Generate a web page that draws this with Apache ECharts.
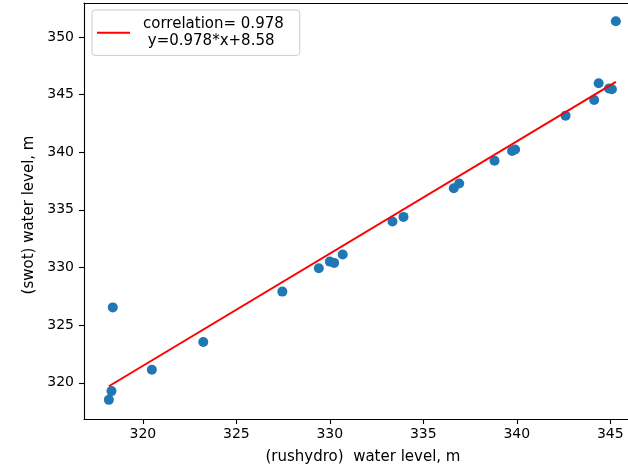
<!DOCTYPE html>
<html>
<head>
<meta charset="utf-8">
<script src="https://cdn.jsdelivr.net/npm/echarts@6/dist/echarts.min.js"></script>
<style>
html,body{margin:0;padding:0;background:#fff;}
#chart{width:628px;height:471px;}
</style>
</head>
<body>
<div id="chart"></div>
<script>
var rushydro = [318.39, 318.32, 318.18, 320.48, 323.23, 327.46, 329.41, 330.00, 330.23, 330.69,
                333.35, 333.94, 336.63, 336.92, 338.81, 339.75, 339.91, 342.61, 344.14, 344.38,
                344.93, 345.09, 345.30];
var swot     = [326.54, 319.28, 318.52, 321.13, 323.54, 327.91, 329.93, 330.51, 330.40, 331.12,
                333.99, 334.39, 336.88, 337.29, 339.26, 340.10, 340.24, 343.17, 344.53, 345.98,
                345.52, 345.46, 351.36];
// Regression line endpoints
var fitX = [318.18, 345.30];
var fitY = [319.70, 346.10];
var fitName = 'correlation= 0.978\n y=0.978*x+8.58';
// Tick labels
var xTicks = [320, 325, 330, 335, 340, 345];
var yTicks = [320, 325, 330, 335, 340, 345, 350];

var font = 'DejaVu Sans';
var scatterData = rushydro.map(function (x, i) { return [x, swot[i]]; });
var fitData = fitX.map(function (x, i) { return [x, fitY[i]]; });

var chart = echarts.init(document.getElementById('chart'), null, {renderer: 'canvas'});
chart.setOption({
  animation: false,
  backgroundColor: '#ffffff',
  textStyle: {fontFamily: font},
  grid: {left: 84, right: 0, top: 3, bottom: 52, containLabel: false},
  legend: {
    left: 92, top: 10,
    orient: 'vertical',
    data: [fitName],
    icon: 'rect',
    itemWidth: 33, itemHeight: 2,
    padding: [5, 16, 5, 5],
    backgroundColor: 'rgba(255,255,255,0.8)',
    borderColor: '#cccccc', borderWidth: 1, borderRadius: 3,
    textStyle: {fontFamily: font, fontSize: 15, color: '#000', lineHeight: 17.7, padding: [0, 0, 0, 8]}
  },
  xAxis: [{
    type: 'value', min: 316.85, max: 345.95,
    name: '(rushydro)  water level, m', nameLocation: 'middle', nameGap: 31,
    nameTextStyle: {fontFamily: font, fontSize: 15, color: '#000', padding: [0, 0, 0, 14]},
    axisLine: {show: true, onZero: false, lineStyle: {color: '#000', width: 1.1}},
    axisTick: {show: true, length: 5, lineStyle: {color: '#000', width: 1.1}, customValues: xTicks},
    axisLabel: {fontFamily: font, fontSize: 14, color: '#000', margin: 8, customValues: xTicks},
    splitLine: {show: false}
  }, {
    type: 'value', position: 'top', min: 316.85, max: 345.95,
    axisLine: {show: true, onZero: false, lineStyle: {color: '#000', width: 1.1}},
    axisTick: {show: false}, axisLabel: {show: false}, splitLine: {show: false}
  }],
  yAxis: [{
    type: 'value', min: 316.86, max: 352.94,
    name: '(swot) water level, m', nameLocation: 'middle', nameGap: 46,
    nameTextStyle: {fontFamily: font, fontSize: 15, color: '#000', padding: [0, 8, 0, 0]},
    axisLine: {show: true, onZero: false, lineStyle: {color: '#000', width: 1.1}},
    axisTick: {show: true, length: 5, lineStyle: {color: '#000', width: 1.1}, customValues: yTicks},
    axisLabel: {fontFamily: font, fontSize: 14, color: '#000', margin: 10, customValues: yTicks},
    splitLine: {show: false}
  }],
  series: [{
    type: 'scatter', name: 'points', data: scatterData,
    symbol: 'circle', symbolSize: 10,
    itemStyle: {color: '#1f77b4', opacity: 1},
    z: 2
  }, {
    type: 'line', name: fitName, data: fitData,
    symbol: 'none', lineStyle: {color: '#ff0000', width: 2},
    itemStyle: {color: '#ff0000'},
    z: 3
  }]
});
</script>
</body>
</html>
